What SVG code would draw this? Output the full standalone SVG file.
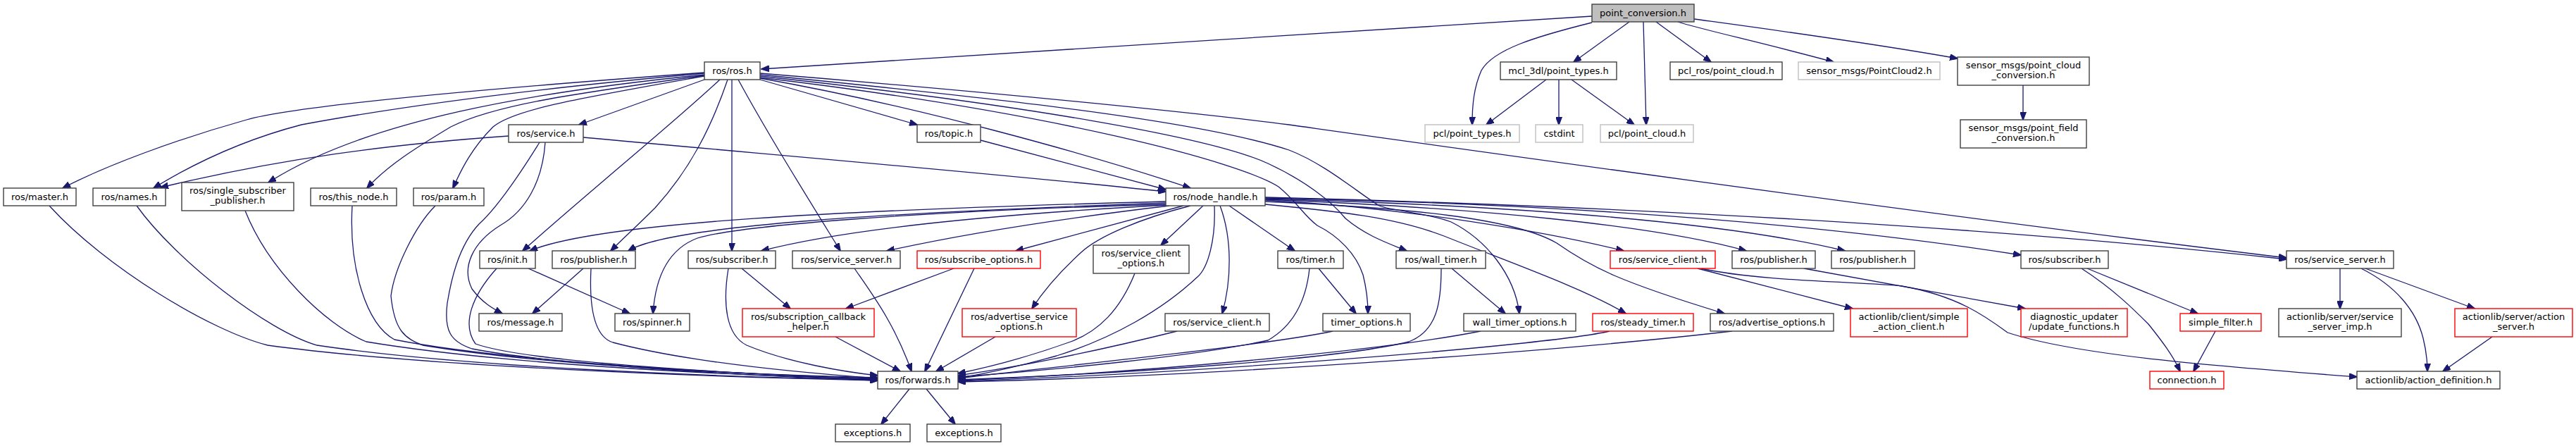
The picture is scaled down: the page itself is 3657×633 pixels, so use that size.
<svg xmlns="http://www.w3.org/2000/svg" width="3657" height="633" viewBox="0 0 3657 633">
<defs>
<marker id="arr" viewBox="0 0 12 9" refX="11" refY="4.5" markerWidth="12" markerHeight="9" markerUnits="userSpaceOnUse" orient="auto">
<path d="M0,0 L12,4.5 L0,9 z" fill="#191970" stroke="#191970" stroke-width="1"/>
</marker>
<style>
.n rect{fill:#fff;stroke:#404040;stroke-width:1.4}
.g rect{fill:#fff;stroke:#bfbfbf;stroke-width:1.4}
.r rect{fill:#fff;stroke:#ff0000;stroke-width:1.4}
.root rect{fill:#bfbfbf;stroke:#404040;stroke-width:1.4}
text{font-family:"DejaVu Sans","Liberation Sans",sans-serif;font-size:13px;fill:#000;text-anchor:middle}
#edges path{fill:none;stroke:#191970;stroke-width:1.3;marker-end:url(#arr)}
</style>
</defs>
<rect width="3657" height="633" fill="#fff"/>
<g id="edges">
<path d="M2260,23 C1900,45 1400,78 1081,98"/>
<path d="M2260,32 C2180,52 2120,70 2103,100 C2092,125 2090,150 2090,177"/>
<path d="M2313,31 L2234,88"/>
<path d="M2333,31 L2337,177"/>
<path d="M2351,31 L2429,88"/>
<path d="M2382,31 C2420,43 2500,60 2603,88"/>
<path d="M2405,27 C2500,40 2650,60 2779,83"/>
<path d="M2195,113 L2110,177"/>
<path d="M2213,113 L2213,177"/>
<path d="M2231,113 L2320,177"/>
<path d="M2872,121 L2872,170"/>
<path d="M1000,103 C700,125 420,150 350,170 C250,198 150,235 89,267"/>
<path d="M1000,104 C800,122 600,145 428,177 C340,200 270,235 218,267"/>
<path d="M1000,106 C760,130 520,170 381,259"/>
<path d="M1000,107 C800,135 700,150 640,180 C590,210 550,235 521,267"/>
<path d="M1000,108 C820,140 730,155 700,180 C670,210 655,240 643,267"/>
<path d="M1000,113 L822,177"/>
<path d="M1022,113 C950,180 850,260 742,356"/>
<path d="M1033,113 C1010,180 980,240 930,295 C905,320 885,338 867,356"/>
<path d="M1039,113 L1039,356"/>
<path d="M1048,113 C1090,190 1140,270 1193,356"/>
<path d="M1079,113 L1302,177"/>
<path d="M1079,111 C1300,150 1550,220 1690,267"/>
<path d="M1079,104 C1400,130 1700,160 1830,177 C2100,215 2700,300 3246,366"/>
<path d="M1079,106 C1400,138 1700,170 1830,213 C1880,232 1930,275 1958,292 C1980,300 2030,303 2060,315 C2110,340 2150,390 2157,445"/>
<path d="M1079,108 C1450,148 1720,195 1800,232 C1850,255 1890,285 1910,310 C1940,335 1970,345 1997,356"/>
<path d="M1079,110 C1500,160 1760,230 1815,265 C1840,285 1850,305 1870,320 C1900,335 1925,360 1935,390 C1940,410 1942,425 1942,445"/>
<path d="M1392,199 L1655,269"/>
<path d="M828,195 C1100,220 1400,245 1655,272"/>
<path d="M722,193 C550,205 400,225 228,266"/>
<path d="M774,202 C770,260 745,300 710,320 C670,345 655,380 670,410 C685,430 700,438 713,445"/>
<path d="M766,202 C730,260 700,300 680,318 C650,350 640,400 635,430 C630,470 640,485 670,495 C800,520 1100,535 1246,540"/>
<path d="M70,292 C150,380 300,470 380,490 C600,520 1000,535 1246,540"/>
<path d="M194,292 C250,370 380,470 450,490 C650,520 1000,535 1246,539"/>
<path d="M348,299 C380,380 460,460 520,485 C700,515 1000,532 1246,538"/>
<path d="M500,292 C495,380 520,460 560,482 C700,510 1000,530 1246,537"/>
<path d="M618,292 C590,320 560,380 555,420 C560,470 575,480 600,490 C750,515 1000,530 1246,536"/>
<path d="M1655,286 C1200,298 850,315 752,356"/>
<path d="M1655,288 C1250,302 950,320 892,356"/>
<path d="M1655,290 C1300,300 1050,320 990,338 C945,355 930,400 927,445"/>
<path d="M1655,291 C1400,305 1200,325 1081,356"/>
<path d="M1660,292 C1550,305 1400,325 1259,356"/>
<path d="M1680,292 L1442,356"/>
<path d="M1690,292 C1620,310 1560,335 1535,358 C1500,390 1480,415 1465,438"/>
<path d="M1708,292 L1648,348"/>
<path d="M1724,292 C1726,340 1715,380 1700,393 C1650,440 1580,480 1500,505 C1440,522 1400,530 1360,537"/>
<path d="M1732,292 C1750,340 1748,400 1735,445"/>
<path d="M1745,292 L1838,356"/>
<path d="M1796,290 C1900,300 1980,308 2050,335 C2150,375 2250,410 2308,445"/>
<path d="M1796,286 C2000,295 2150,310 2210,345 C2260,380 2300,400 2448,445"/>
<path d="M1796,284 C2000,295 2200,330 2305,356"/>
<path d="M1796,283 C2100,295 2350,320 2479,356"/>
<path d="M1796,282 C2150,292 2450,315 2619,356"/>
<path d="M1796,281 C2250,290 2600,320 2869,362"/>
<path d="M1796,280 C2400,295 2900,330 3246,368"/>
<path d="M705,381 C670,420 655,460 675,488 C750,515 1050,530 1246,539"/>
<path d="M750,381 L894,445"/>
<path d="M828,381 L756,445"/>
<path d="M839,381 C836,440 845,478 870,486 C980,515 1150,530 1246,537"/>
<path d="M1034,381 C1026,430 1030,475 1060,490 C1120,515 1200,528 1246,533"/>
<path d="M1053,381 L1122,438"/>
<path d="M1213,381 C1240,420 1270,460 1294,527"/>
<path d="M1186,478 L1278,527"/>
<path d="M1354,381 L1201,438"/>
<path d="M1383,381 L1313,527"/>
<path d="M1413,478 L1329,527"/>
<path d="M1611,388 C1590,440 1560,470 1520,485 C1450,510 1400,522 1360,530"/>
<path d="M1671,470 C1550,500 1450,520 1360,533"/>
<path d="M1859,381 C1855,420 1840,460 1800,483 C1700,505 1500,525 1360,535"/>
<path d="M1872,381 L1925,445"/>
<path d="M1892,470 C1800,490 1500,520 1360,537"/>
<path d="M2046,381 C2046,430 2040,470 2000,485 C1900,510 1600,530 1360,539"/>
<path d="M2061,381 L2137,445"/>
<path d="M2102,470 C1950,500 1600,530 1360,540"/>
<path d="M2285,470 C2200,490 1700,530 1360,541"/>
<path d="M2459,470 C2200,500 1700,535 1360,542"/>
<path d="M2410,381 L2630,438"/>
<path d="M2415,381 C2500,400 2650,400 2700,406 C2780,420 2820,450 2850,472 C2950,505 3150,520 3346,535"/>
<path d="M2561,381 L2875,438"/>
<path d="M2963,381 L3120,445"/>
<path d="M2955,381 C3000,410 3030,440 3050,460 C3070,485 3085,505 3095,527"/>
<path d="M3145,470 L3114,527"/>
<path d="M3322,381 L3322,438"/>
<path d="M3352,381 C3400,405 3430,440 3440,480 C3445,500 3446,515 3446,527"/>
<path d="M3358,381 L3513,438"/>
<path d="M3538,478 L3468,527"/>
<path d="M1291,552 L1251,602"/>
<path d="M1315,552 L1356,602"/>
</g>
<g id="n0" class="root"><rect x="2260" y="6" width="145" height="25"/><text x="2332.5" y="23">point_conversion.h</text></g>
<g id="n1" class="n"><rect x="1000" y="88" width="79" height="25"/><text x="1039.5" y="105">ros/ros.h</text></g>
<g id="n2" class="n"><rect x="2130" y="88" width="165" height="25"/><text x="2212.5" y="105">mcl_3dl/point_types.h</text></g>
<g id="n3" class="n"><rect x="2371" y="88" width="159" height="25"/><text x="2450.5" y="105">pcl_ros/point_cloud.h</text></g>
<g id="n4" class="g"><rect x="2553" y="88" width="201" height="25"/><text x="2653.5" y="105">sensor_msgs/PointCloud2.h</text></g>
<g id="n5" class="n"><rect x="2779" y="81" width="187" height="40"/><text x="2872.5" y="97">sensor_msgs/point_cloud</text><text x="2872.5" y="111">_conversion.h</text></g>
<g id="n6" class="n"><rect x="722" y="177" width="106" height="25"/><text x="775" y="194">ros/service.h</text></g>
<g id="n7" class="n"><rect x="1302" y="177" width="90" height="25"/><text x="1347" y="194">ros/topic.h</text></g>
<g id="n8" class="g"><rect x="2023" y="177" width="134" height="25"/><text x="2090" y="194">pcl/point_types.h</text></g>
<g id="n9" class="g"><rect x="2180" y="177" width="67" height="25"/><text x="2213.5" y="194">cstdint</text></g>
<g id="n10" class="g"><rect x="2272" y="177" width="132" height="25"/><text x="2338" y="194">pcl/point_cloud.h</text></g>
<g id="n11" class="n"><rect x="2783" y="170" width="179" height="40"/><text x="2872.5" y="186">sensor_msgs/point_field</text><text x="2872.5" y="200">_conversion.h</text></g>
<g id="n12" class="n"><rect x="5" y="267" width="103" height="25"/><text x="56.5" y="284">ros/master.h</text></g>
<g id="n13" class="n"><rect x="132" y="267" width="103" height="25"/><text x="183.5" y="284">ros/names.h</text></g>
<g id="n14" class="n"><rect x="258" y="259" width="159" height="40"/><text x="337.5" y="275">ros/single_subscriber</text><text x="337.5" y="289">_publisher.h</text></g>
<g id="n15" class="n"><rect x="441" y="267" width="122" height="25"/><text x="502" y="284">ros/this_node.h</text></g>
<g id="n16" class="n"><rect x="587" y="267" width="100" height="25"/><text x="637" y="284">ros/param.h</text></g>
<g id="n17" class="n"><rect x="1655" y="267" width="141" height="25"/><text x="1725.5" y="284">ros/node_handle.h</text></g>
<g id="n18" class="n"><rect x="681" y="356" width="79" height="25"/><text x="720.5" y="373">ros/init.h</text></g>
<g id="n19" class="n"><rect x="784" y="356" width="118" height="25"/><text x="843" y="373">ros/publisher.h</text></g>
<g id="n20" class="n"><rect x="977" y="356" width="124" height="25"/><text x="1039" y="373">ros/subscriber.h</text></g>
<g id="n21" class="n"><rect x="1125" y="356" width="153" height="25"/><text x="1201.5" y="373">ros/service_server.h</text></g>
<g id="n22" class="r"><rect x="1302" y="356" width="175" height="25"/><text x="1389.5" y="373">ros/subscribe_options.h</text></g>
<g id="n23" class="n"><rect x="1552" y="348" width="136" height="40"/><text x="1620" y="364">ros/service_client</text><text x="1620" y="378">_options.h</text></g>
<g id="n24" class="n"><rect x="1814" y="356" width="93" height="25"/><text x="1860.5" y="373">ros/timer.h</text></g>
<g id="n25" class="n"><rect x="1982" y="356" width="127" height="25"/><text x="2045.5" y="373">ros/wall_timer.h</text></g>
<g id="n26" class="r"><rect x="2286" y="356" width="149" height="25"/><text x="2360.5" y="373">ros/service_client.h</text></g>
<g id="n27" class="n"><rect x="2459" y="356" width="118" height="25"/><text x="2518" y="373">ros/publisher.h</text></g>
<g id="n28" class="n"><rect x="2600" y="356" width="118" height="25"/><text x="2659" y="373">ros/publisher.h</text></g>
<g id="n29" class="n"><rect x="2869" y="356" width="124" height="25"/><text x="2931" y="373">ros/subscriber.h</text></g>
<g id="n30" class="n"><rect x="3246" y="356" width="152" height="25"/><text x="3322" y="373">ros/service_server.h</text></g>
<g id="n31" class="n"><rect x="680" y="445" width="118" height="25"/><text x="739" y="462">ros/message.h</text></g>
<g id="n32" class="n"><rect x="873" y="445" width="106" height="25"/><text x="926" y="462">ros/spinner.h</text></g>
<g id="n33" class="r"><rect x="1054" y="438" width="187" height="40"/><text x="1147.5" y="454">ros/subscription_callback</text><text x="1147.5" y="468">_helper.h</text></g>
<g id="n34" class="r"><rect x="1366" y="438" width="162" height="40"/><text x="1447" y="454">ros/advertise_service</text><text x="1447" y="468">_options.h</text></g>
<g id="n35" class="n"><rect x="1654" y="445" width="148" height="25"/><text x="1728" y="462">ros/service_client.h</text></g>
<g id="n36" class="n"><rect x="1878" y="445" width="124" height="25"/><text x="1940" y="462">timer_options.h</text></g>
<g id="n37" class="n"><rect x="2078" y="445" width="159" height="25"/><text x="2157.5" y="462">wall_timer_options.h</text></g>
<g id="n38" class="r"><rect x="2261" y="445" width="143" height="25"/><text x="2332.5" y="462">ros/steady_timer.h</text></g>
<g id="n39" class="n"><rect x="2428" y="445" width="175" height="25"/><text x="2515.5" y="462">ros/advertise_options.h</text></g>
<g id="n40" class="r"><rect x="2627" y="438" width="166" height="40"/><text x="2710" y="454">actionlib/client/simple</text><text x="2710" y="468">_action_client.h</text></g>
<g id="n41" class="r"><rect x="2869" y="438" width="151" height="40"/><text x="2944.5" y="454">diagnostic_updater</text><text x="2944.5" y="468">/update_functions.h</text></g>
<g id="n42" class="r"><rect x="3095" y="445" width="115" height="25"/><text x="3152.5" y="462">simple_filter.h</text></g>
<g id="n43" class="n"><rect x="3235" y="438" width="174" height="40"/><text x="3322" y="454">actionlib/server/service</text><text x="3322" y="468">_server_imp.h</text></g>
<g id="n44" class="r"><rect x="3485" y="438" width="167" height="40"/><text x="3568.5" y="454">actionlib/server/action</text><text x="3568.5" y="468">_server.h</text></g>
<g id="n45" class="n"><rect x="1246" y="527" width="114" height="25"/><text x="1303" y="544">ros/forwards.h</text></g>
<g id="n46" class="r"><rect x="3052" y="527" width="105" height="25"/><text x="3104.5" y="544">connection.h</text></g>
<g id="n47" class="n"><rect x="3346" y="527" width="203" height="25"/><text x="3447.5" y="544">actionlib/action_definition.h</text></g>
<g id="n48" class="n"><rect x="1186" y="602" width="106" height="25"/><text x="1239" y="619">exceptions.h</text></g>
<g id="n49" class="n"><rect x="1316" y="602" width="105" height="25"/><text x="1368.5" y="619">exceptions.h</text></g>
</svg>
